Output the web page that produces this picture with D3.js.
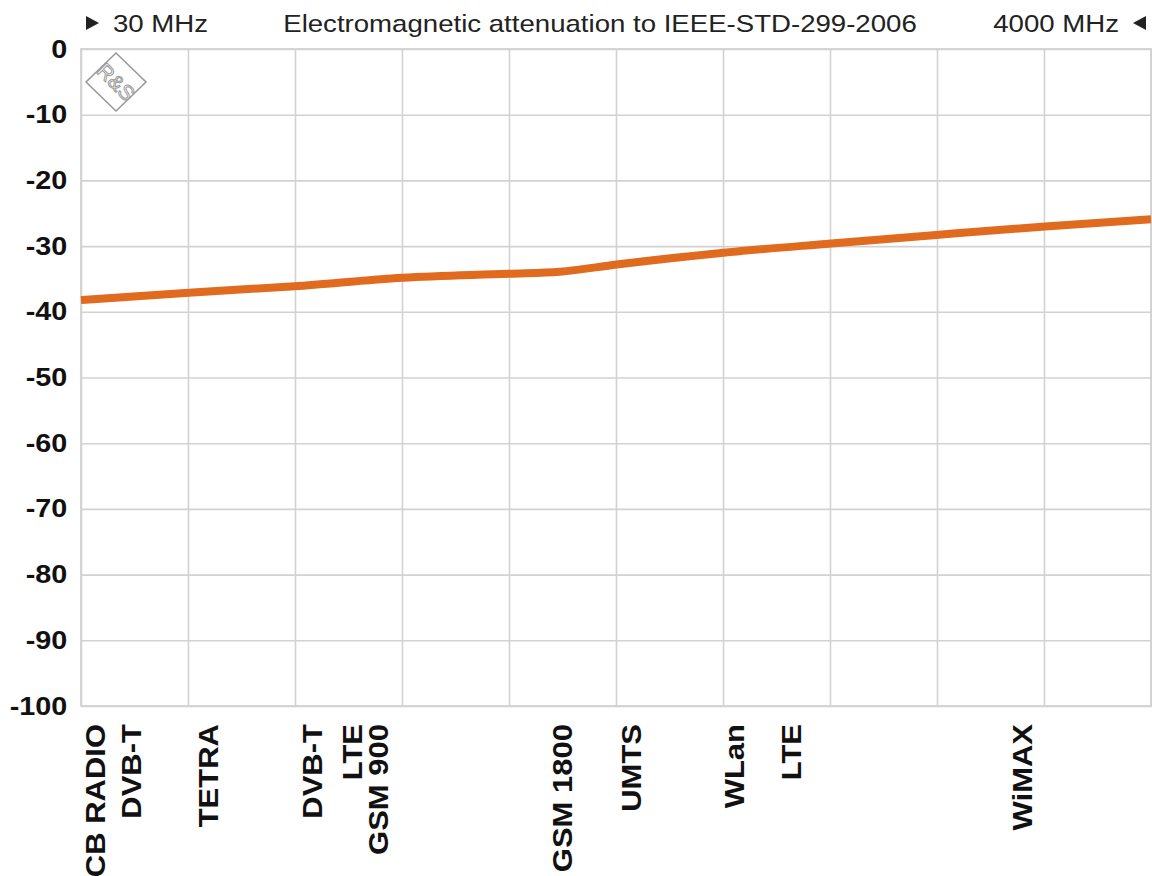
<!DOCTYPE html>
<html>
<head>
<meta charset="utf-8">
<script src="https://cdn.jsdelivr.net/npm/d3@7"></script>
<style>
  body { margin: 0; background: #fff; }
  text { font-family: "Liberation Sans", Arial, sans-serif; }
</style>
</head>
<body>
<div id="chart"></div>
<script>
// attenuation curve (MHz, dB)
var freq_mhz = [30, 430, 823, 1224, 1617, 1806, 2017, 2414, 2814, 3203, 3607, 4000];
var atten_db = [-38.2, -37.1, -36.1, -34.8, -34.2, -33.9, -32.8, -31.0, -29.6, -28.3, -27.0, -25.9];

// services marked under the axis
var band_names = ['CB RADIO', 'DVB-T', 'TETRA', 'DVB-T', 'LTE', 'GSM 900', 'GSM 1800', 'UMTS', 'WLan', 'LTE', 'WiMAX'];
var band_mhz = [82, 215, 501, 886, 1034, 1131, 1813, 2072, 2454, 2665, 3522];

var y_ticks = [0, -10, -20, -30, -40, -50, -60, -70, -80, -90, -100];
var f_start = 30;
var f_stop = 4000;
var title = 'Electromagnetic attenuation to IEEE-STD-299-2006';

var chart_width = 1152;
var chart_height = 876;
var margin = { top: 49, right: 1, bottom: 170, left: 81 };
var w = chart_width - margin.left - margin.right;
var h = chart_height - margin.top - margin.bottom;

var svg = d3.select('#chart')
  .append('svg')
  .attr('width', chart_width)
  .attr('height', chart_height);

var g = svg.append('g')
  .attr('transform', 'translate(' + margin.left + ',' + margin.top + ')');

//scales
var x_scale = d3.scaleLinear()
  .domain([f_start, f_stop])
  .range([0, w]);

var y_scale = d3.scaleLinear()
  .domain([-100, 0])
  .range([h, 0]);

// vertical grid, 10 divisions
var x_grid = d3.axisBottom(x_scale)
  .tickValues(d3.range(11).map(function(i) { return f_start + i * (f_stop - f_start) / 10; }))
  .tickSize(-h)
  .tickFormat('');

g.append('g')
  .attr('class', 'x-grid')
  .attr('transform', 'translate(0,' + h + ')')
  .call(x_grid);

// plain hyphen as minus, like the original
var y_axis = d3.axisLeft(y_scale)
  .tickValues(y_ticks)
  .tickSize(-w)
  .tickPadding(12)
  .tickFormat(function(d) { return String(d); });

g.append('g')
  .attr('class', 'y-axis')
  .call(y_axis);

g.selectAll('.domain').remove();
g.selectAll('.tick line')
  .attr('stroke', '#d2d2d2')
  .attr('stroke-width', 1.6);

g.selectAll('.y-axis text')
  .attr('fill', '#111')
  .attr('font-size', 25)
  .attr('font-weight', 'bold')
  .attr('transform', 'scale(1.15,1)');

// frame
g.append('rect')
  .attr('width', w)
  .attr('height', h)
  .attr('fill', 'none')
  .attr('stroke', '#d2d2d2')
  .attr('stroke-width', 1.8);

// R&S logo
var logo = g.append('g')
  .attr('transform', 'translate(35,33)');
logo.append('path')
  .attr('d', 'M0,-29 L30,0 L0,29 L-30,0 Z')
  .attr('fill', 'none')
  .attr('stroke', '#9a9a9a')
  .attr('stroke-width', 1.6);
logo.append('text')
  .attr('transform', 'rotate(45)')
  .attr('text-anchor', 'middle')
  .attr('dy', '0.35em')
  .attr('font-size', 21)
  .attr('fill', 'none')
  .attr('stroke', '#9a9a9a')
  .attr('stroke-width', 1)
  .text('R&S');

// curve
var line = d3.line()
  .x(function(d) { return x_scale(d[0]); })
  .y(function(d) { return y_scale(d[1]); })
  .curve(d3.curveMonotoneX);

g.append('path')
  .datum(d3.zip(freq_mhz, atten_db))
  .attr('d', line)
  .attr('fill', 'none')
  .attr('stroke', '#e06a1e')
  .attr('stroke-width', 8)
  .attr('stroke-linecap', 'butt');

// band labels
g.append('g')
  .selectAll('text')
  .data(d3.zip(band_names, band_mhz))
  .enter()
  .append('text')
  .attr('transform', function(d) {
    return 'translate(' + (x_scale(d[1]) + 10) + ',' + (h + 18) + ') rotate(-90) scale(1,0.9)';
  })
  .attr('text-anchor', 'end')
  .attr('font-size', 31)
  .attr('font-weight', 'bold')
  .attr('fill', '#111')
  .text(function(d) { return d[0]; });

// header row
var head = svg.append('g').attr('fill', '#222');

head.append('path')
  .attr('d', 'M86,16 L99,23 L86,30 Z');
head.append('text')
  .attr('transform', 'translate(113,32) scale(1.15,1)')
  .attr('font-size', 24)
  .text(f_start + ' MHz');

head.append('text')
  .attr('transform', 'translate(600,32) scale(1.15,1)')
  .attr('text-anchor', 'middle')
  .attr('font-size', 24)
  .text(title);

head.append('text')
  .attr('transform', 'translate(1119,32) scale(1.15,1)')
  .attr('text-anchor', 'end')
  .attr('font-size', 24)
  .text(f_stop + ' MHz');
head.append('path')
  .attr('d', 'M1146,16 L1133,23 L1146,30 Z');
</script>
</body>
</html>
